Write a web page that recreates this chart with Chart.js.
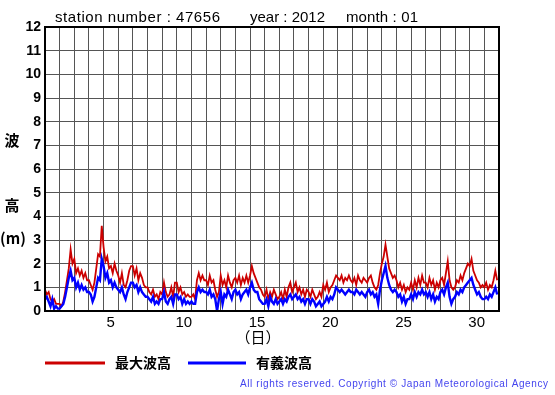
<!DOCTYPE html>
<html>
<head>
<meta charset="utf-8">
<script src="https://cdn.jsdelivr.net/npm/chart.js@4/dist/chart.umd.min.js"></script>
<style>
  html, body { margin: 0; padding: 0; background: #fff; }
  #wrap { width: 555px; height: 395px; }
</style>
</head>
<body>
<div id="wrap"><canvas id="myChart" width="555" height="395"></canvas></div>
<script>
// 3-hourly values, 8 per day, Jan 1 .. Jan 31
const maxWave = [
  0.9,0.7,0.8,0.5,0.4,0.5,0.3,0.3,
  0.3,0.2,0.4,0.8,1.3,1.8,2.6,2.0,
  2.2,1.6,1.8,1.5,1.7,1.4,1.6,1.3,
  1.3,1.1,0.9,1.2,1.8,2.4,2.3,3.6,
  2.7,2.1,2.3,1.8,1.9,1.6,2.0,1.7,
  1.5,1.2,1.6,1.1,1.0,1.3,1.7,1.9,
  1.9,1.5,1.8,1.3,1.6,1.4,1.1,1.0,
  1.0,0.8,0.7,0.9,0.6,0.7,0.5,0.8,
  0.7,1.2,0.8,0.6,0.7,1.0,0.6,1.2,
  1.2,0.8,1.0,0.7,0.8,0.6,0.7,0.6,
  0.6,0.7,0.5,1.3,1.6,1.3,1.5,1.3,
  1.3,1.1,1.5,1.2,1.3,0.9,0.6,0.8,
  1.5,1.1,1.3,1.0,1.5,1.2,1.0,1.3,
  1.4,1.2,1.5,1.1,1.4,1.2,1.5,1.2,
  1.5,1.9,1.6,1.4,1.2,1.0,0.9,0.7,
  0.6,0.9,0.5,0.8,0.6,0.9,0.7,0.5,
  0.6,0.8,0.5,0.9,0.6,1.0,1.2,0.8,
  1.0,1.2,0.8,1.0,0.7,0.9,0.6,0.9,
  0.8,0.6,0.9,0.7,0.5,0.6,0.8,0.6,
  1.1,0.9,1.2,0.8,1.0,1.1,1.3,1.5,
  1.4,1.3,1.5,1.2,1.4,1.3,1.5,1.3,
  1.2,1.4,1.1,1.5,1.3,1.2,1.4,1.3,
  1.2,1.4,1.5,1.2,1.0,0.9,1.1,1.6,
  2.0,2.3,2.8,2.3,1.8,1.6,1.4,1.5,
  1.3,1.0,1.2,0.9,1.1,0.8,1.0,0.9,
  1.2,0.9,1.3,1.0,1.4,1.1,1.5,1.2,
  1.2,1.0,1.4,1.1,1.3,0.9,1.2,1.0,
  1.3,1.4,1.1,1.6,2.1,1.3,1.0,0.9,
  1.0,1.3,1.2,1.5,1.3,1.6,1.8,2.0,
  1.9,2.2,1.7,1.5,1.3,1.2,1.0,1.1,
  1.0,1.2,0.9,1.1,1.0,1.3,1.7,1.3
];
const sigWave = [
  0.5,0.6,0.4,0.2,0.5,0.1,0.2,0.1,
  0.1,0.2,0.3,0.6,1.0,1.4,1.7,1.3,
  1.4,1.0,1.2,0.9,1.1,0.9,1.0,0.8,
  0.8,0.7,0.4,0.6,1.0,1.4,1.3,2.2,
  1.9,1.4,1.6,1.2,1.3,1.0,1.2,1.0,
  0.9,0.8,1.0,0.7,0.5,0.8,1.0,1.2,
  1.2,1.0,1.1,0.8,1.0,0.8,0.7,0.6,
  0.6,0.5,0.4,0.6,0.3,0.4,0.3,0.5,
  0.5,0.8,0.4,0.3,0.5,0.6,0.3,0.7,
  0.7,0.5,0.6,0.3,0.5,0.3,0.4,0.3,
  0.4,0.3,0.3,0.8,1.0,0.8,0.9,0.8,
  0.8,0.7,0.9,0.6,0.7,0.5,0.0,0.5,
  0.8,0.3,0.7,0.6,0.9,0.7,0.5,0.8,
  0.9,0.7,0.8,0.5,0.7,0.8,0.9,0.7,
  1.0,1.2,0.9,0.8,0.8,0.5,0.4,0.3,
  0.3,0.5,0.2,0.6,0.4,0.3,0.5,0.3,
  0.4,0.5,0.3,0.5,0.4,0.6,0.7,0.5,
  0.6,0.7,0.5,0.6,0.4,0.5,0.3,0.5,
  0.5,0.3,0.5,0.4,0.2,0.3,0.4,0.2,
  0.3,0.4,0.6,0.4,0.6,0.5,0.7,1.0,
  0.9,0.8,0.9,0.8,0.7,0.8,0.9,0.8,
  0.8,0.7,0.9,0.8,0.7,0.8,0.7,0.6,
  0.8,0.9,0.7,0.8,0.6,0.7,0.3,0.9,
  1.3,1.6,1.9,1.4,1.1,0.9,0.8,0.9,
  0.8,0.6,0.7,0.4,0.6,0.3,0.5,0.5,
  0.7,0.5,0.8,0.6,0.8,0.7,0.9,0.7,
  0.8,0.6,0.8,0.5,0.7,0.4,0.6,0.5,
  0.8,0.9,0.7,1.0,1.2,0.6,0.3,0.5,
  0.6,0.8,0.7,0.9,0.8,1.0,1.1,1.2,
  1.3,1.4,1.1,0.9,0.7,0.8,0.6,0.5,
  0.5,0.6,0.5,0.7,0.6,0.8,1.0,0.7
];
const dayLabels = [5, 10, 15, 20, 25, 30];
const yTicks = [0,1,2,3,4,5,6,7,8,9,10,11,12];
const seriesNames = ['最大波高', '有義波高'];
const stationText = 'station number : 47656';
const yearText = 'year : 2012';
const monthText = 'month : 01';
const copyText = 'All rights reserved. Copyright © Japan Meteorological Agency';

const perDay = 8;
function toPoints(arr) {
  return arr.map((v, i) => ({ x: i / perDay, y: v }));
}

// draw a string stretched to a given width
function fitText(c, txt, x, y, width) {
  c.letterSpacing = '0px';
  const w = c.measureText(txt).width;
  c.letterSpacing = ((width - w) / (txt.length - 1)) + 'px';
  c.fillText(txt, x, y);
  c.letterSpacing = '0px';
}

const extras = {
  id: 'extras',
  afterDraw(chart) {
    const c = chart.ctx;
    const a = chart.chartArea;
    c.save();
    // frame
    c.strokeStyle = '#000';
    c.lineWidth = 2;
    c.strokeRect(a.left, a.top, a.right - a.left, a.bottom - a.top);

    // title
    c.fillStyle = '#000';
    c.textBaseline = 'alphabetic';
    c.textAlign = 'left';
    c.font = '15px "Liberation Sans", Arial, sans-serif';
    fitText(c, stationText, 55, 22, 165);
    fitText(c, yearText, 250, 22, 75);
    fitText(c, monthText, 346, 22, 72);

    // y axis title, stacked
    c.font = 'bold 15px "Noto Sans CJK JP", sans-serif';
    c.textAlign = 'center';
    c.textBaseline = 'middle';
    c.fillText('波', 12, 140);
    c.fillText('高', 12, 205);
    c.fillText('(m)', 13, 238);

    // x axis title
    c.font = '15px "Noto Sans CJK JP", sans-serif';
    c.fillText('（日）', 258, 337);

    // legend
    c.lineWidth = 3;
    c.strokeStyle = '#cc0000';
    c.beginPath(); c.moveTo(45, 363); c.lineTo(105, 363); c.stroke();
    c.strokeStyle = '#0000ff';
    c.beginPath(); c.moveTo(188, 363); c.lineTo(246, 363); c.stroke();
    c.font = 'bold 14px "Noto Sans CJK JP", sans-serif';
    c.textAlign = 'left';
    c.fillStyle = '#000';
    c.fillText(seriesNames[0], 115, 363);
    c.fillText(seriesNames[1], 256, 363);

    // copyright, spread to fit
    c.font = '10px "Liberation Sans", Arial, sans-serif';
    c.fillStyle = '#4444ee';
    fitText(c, copyText, 240, 384, 308);
    c.restore();
  }
};

const ctx = document.getElementById('myChart');
new Chart(ctx, {
  type: 'line',
  data: {
    datasets: [
      {
        label: seriesNames[1],
        data: toPoints(sigWave),
        borderColor: '#0000ff',
        borderWidth: 2.4,
        pointRadius: 0,
        tension: 0
      },
      {
        label: seriesNames[0],
        data: toPoints(maxWave),
        borderColor: '#cc0000',
        borderWidth: 1.8,
        pointRadius: 0,
        tension: 0
      }
    ]
  },
  options: {
    responsive: false,
    animation: false,
    events: [],
    layout: { padding: { left: 0, right: 56, top: 27, bottom: 0 } },
    plugins: { legend: { display: false }, tooltip: { enabled: false } },
    scales: {
      x: {
        type: 'linear',
        min: 0,
        max: 31,
        afterBuildTicks: s => { s.ticks = Array.from({ length: 32 }, (_, i) => ({ value: i })); },
        afterFit: s => { s.height = 84; },
        grid: { color: '#555', lineWidth: 1, drawTicks: false },
        border: { display: false },
        ticks: {
          autoSkip: false,
          maxRotation: 0,
          padding: 3,
          labelOffset: 7,
          color: '#000',
          font: { family: '"Liberation Sans", Arial, sans-serif', size: 15 },
          callback: v => (dayLabels.includes(v + 1) ? String(v + 1) : '')
        }
      },
      y: {
        min: 0,
        max: 12,
        afterBuildTicks: s => { s.ticks = yTicks.map(v => ({ value: v })); },
        afterFit: s => { s.width = 45; },
        grid: { color: '#555', lineWidth: 1, drawTicks: false },
        border: { display: false },
        ticks: {
          padding: 4,
          color: '#000',
          font: { family: '"Liberation Sans", Arial, sans-serif', size: 14, weight: 'bold' }
        }
      }
    }
  },
  plugins: [extras]
});
</script>
</body>
</html>
